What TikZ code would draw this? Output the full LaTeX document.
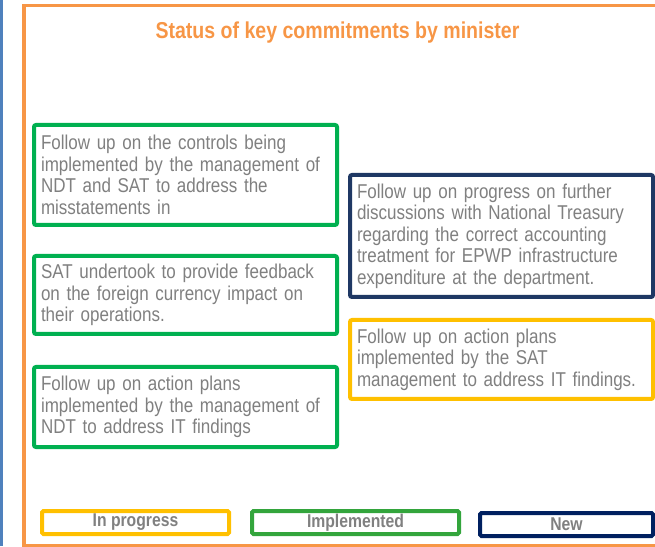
\documentclass[tikz,border=0pt]{standalone}
\usepackage{fontspec}
\setmainfont{Liberation Sans}[FakeStretch=0.85]
\usetikzlibrary{positioning}
\definecolor{figAzul}{RGB}{79,129,189}
\definecolor{figNaranja}{RGB}{247,150,70}
\definecolor{figVerde}{RGB}{0,176,80}
\definecolor{figVerdeLey}{RGB}{51,165,60}
\definecolor{figAzulMarino}{RGB}{31,56,100}
\definecolor{figAzulLey}{RGB}{0,32,96}
\definecolor{figAmarillo}{RGB}{255,192,0}
\definecolor{figGrisTexto}{RGB}{128,128,128}
\tikzset{
  caja/.style={
    rectangle, rounded corners=2pt, line width=4pt, fill=white,
    text width=289pt, align=left, inner xsep=7pt, inner ysep=4pt,
    text=figGrisTexto, font=\fontsize{20}{21.5}\selectfont
  },
  cajav/.style={caja, draw=figVerde},
  cajaa/.style={caja, draw=figAzulMarino},
  cajam/.style={caja, draw=figAmarillo},
  leyenda/.style={
    rectangle, rounded corners=1.5pt, line width=4pt, minimum height=23pt,
    inner sep=0pt, text=figGrisTexto, font=\bfseries\fontsize{18.5}{20}\selectfont
  }
}

\begin{document}
\begin{tikzpicture}[x=1pt, y=1pt, node distance=27pt]
  \useasboundingbox (0,0) rectangle (655,546);
  \clip (0,0) rectangle (655,546);
  \draw[figAzul, line width=3pt] (1.5,0) -- (1.5,546);
  \draw[figNaranja, line width=3.5pt] (24,0.6) rectangle (700,540.5);
  \node[font=\bfseries\fontsize{23}{25}\selectfont, text=figNaranja] (titulo) at (337.5,513) {Status of key commitments by minister};
  \node[cajav, minimum height=100pt, anchor=north west] (controles) at (32,423) {Follow up on the controls being\\implemented by the management of\\NDT and SAT to address the\\misstatements in};
  \node[cajav, minimum height=78pt, below=of controles] (divisas) {SAT undertook to provide feedback\\on the foreign currency impact on\\their operations.};
  \node[cajav, minimum height=80pt, below=29pt of divisas] (ndtit) {Follow up on action plans\\implemented by the management of\\NDT to address IT findings};
  \node[cajaa, minimum height=122pt, anchor=north west] (tesoro) at (348,373) {Follow up on progress on further\\discussions with National Treasury\\regarding the correct accounting\\treatment for EPWP infrastructure\\expenditure at the department.};
  \node[cajam, minimum height=79pt, below=19pt of tesoro] (satit) {Follow up on action plans\\implemented by the SAT\\management to address IT findings.};
  \node[leyenda, draw=figAmarillo, minimum width=187pt, anchor=north west] (leyprog) at (40,37) {In progress};
  \node[leyenda, draw=figVerdeLey, minimum width=207pt, right=19pt of leyprog] (leyimpl) {Implemented};
  \node[leyenda, draw=figAzulLey, minimum width=173pt, right=17pt of leyimpl, yshift=-2pt] (leynuevo) {New};
\end{tikzpicture}
\end{document}
